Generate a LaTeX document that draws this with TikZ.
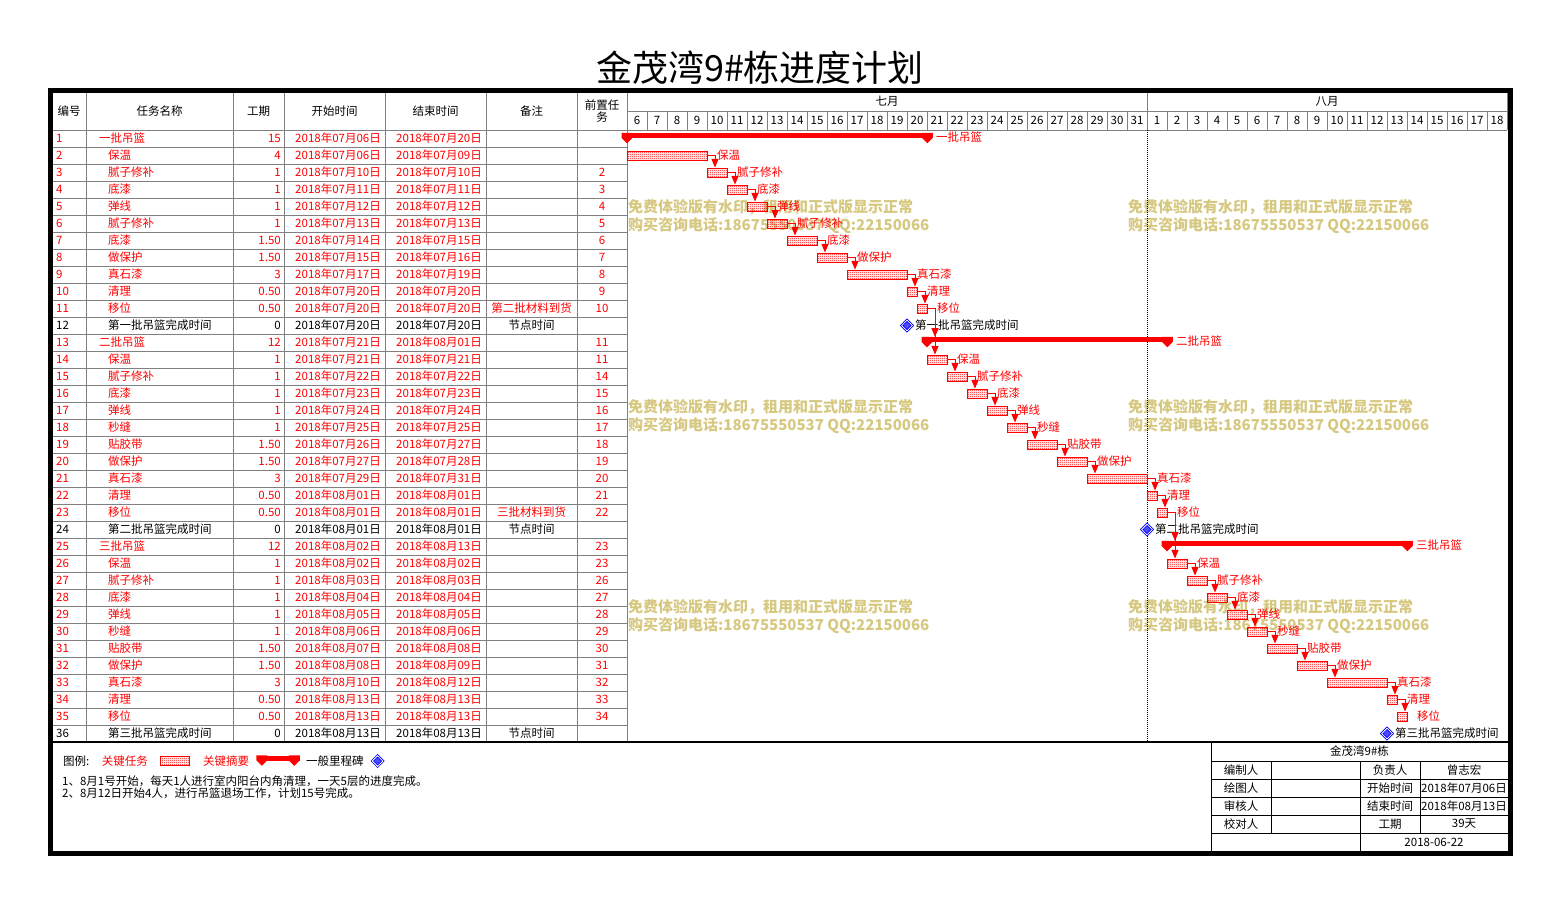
\documentclass[tikz,border=0pt]{standalone}
\usepackage{fontspec}
\setmainfont{Noto Sans CJK SC}
\usepackage{tikz}
\usetikzlibrary{arrows,positioning,calc,patterns,shapes.geometric}

\definecolor{wmark}{RGB}{214,200,128}
\definecolor{gridgray}{RGB}{128,128,128}
% fine checker fill of the task bars
\pgfdeclarepatternformonly{finecheck}{\pgfqpoint{0pt}{0pt}}{\pgfqpoint{2pt}{2pt}}{\pgfqpoint{2pt}{2pt}}{%
  \pgfpathrectangle{\pgfpointorigin}{\pgfqpoint{1pt}{1pt}}%
  \pgfpathrectangle{\pgfqpoint{1pt}{1pt}}{\pgfqpoint{1pt}{1pt}}%
  \pgfusepath{fill}}
% end caps of a summary bar
\newcommand{\sumcaps}[1]{%
  \fill[red] (#1.north west) -- ++(11,0) -- ++(0,5) -- ++(-5.5,5.5) -- ++(-5.5,-5.5) -- cycle;
  \fill[red] (#1.north east) -- ++(-11,0) -- ++(0,5) -- ++(5.5,5.5) -- ++(5.5,-5.5) -- cycle;}

\begin{document}
\begin{tikzpicture}[x=1pt,y=-1pt,>=triangle 45,inner sep=0pt,font=\fontsize{11.5}{12}\selectfont]
\tikzstyle{rule}=[draw=gridgray,line width=1pt]
  \tikzstyle{taskbar}=[draw=red,line width=1pt,pattern=finecheck,pattern color=red,minimum height=9pt,anchor=west]
  \tikzstyle{sumbar}=[fill=red,minimum height=5pt,anchor=west]
  \tikzstyle{milestone}=[diamond,aspect=1,draw=blue,double=white,double distance=0.8pt,line width=0.8pt,fill=blue!70,minimum size=11pt]
  \tikzstyle{barlab}=[text=red]
  \tikzstyle{link}=[->,draw=red,line width=1pt]
  \tikzstyle{wmtext}=[text=wmark,font=\fontsize{15}{18}\selectfont\bfseries,align=left,anchor=north west]
\useasboundingbox (0,0) rectangle (1559,903);
%
\node[font=\fontsize{36}{40}\selectfont] (title) at (760,68) {金茂湾9\#栋进度计划};
%
% watermark
\foreach \wx/\wy [count=\k] in {628/199,1128/199,628/399,1128/399,628/599,1128/599}
  \node[wmtext] (wm\k) at (\wx,\wy) {免费体验版有水印，租用和正式版显示正常\\购买咨询电话:18675550537 QQ:22150066};
%
% grid of the table and of the time scale
\foreach \cx in {52,86,233,284,385,486,577,627} \draw[rule] (\cx,92) -- (\cx,742);
\foreach \k in {0,...,36} \draw[rule] (52,{130+17*\k}) -- (627,{130+17*\k});
\draw[rule] (627,111) -- (1507,111);
\draw[rule] (627,130) -- (1507,130);
\foreach \k in {0,...,44} \draw[rule] ({627+20*\k},111) -- ++(0,19);
\draw[rule] (1147,92) -- (1147,111);
\draw[rule] (1507,92) -- (1507,130);
\draw[dash pattern=on 1pt off 1pt,line width=0.8pt] (1147,130) -- (1147,742);
%
% headers
\foreach \hx/\htext [count=\k] in {69/编号,159.5/任务名称,258.5/工期,334.5/开始时间,435.5/结束时间,531.5/备注}
  \node (head\k) at (\hx,111) {\htext};
\node[align=center] (head7) at (602,111) {前置任\\务};
\node (jul) at (887,101.5) {七月};
\node (aug) at (1327,101.5) {八月};
\foreach \d in {6,...,31} \node (jul\d) at ({637+20*(\d-6)},120.5) {\d};
\foreach \d in {1,...,18} \node (aug\d) at ({1157+20*(\d-1)},120.5) {\d};
%
% table rows
\foreach \i/\nx/\tname/\dur/\tbeg/\tend/\tnote/\pred/\col in {
1/99/一批吊篮/15/07月06日/07月20日///red,
2/108/保温/4/07月06日/07月09日///red,
3/108/腻子修补/1/07月10日/07月10日//2/red,
4/108/底漆/1/07月11日/07月11日//3/red,
5/108/弹线/1/07月12日/07月12日//4/red,
6/108/腻子修补/1/07月13日/07月13日//5/red,
7/108/底漆/1.50/07月14日/07月15日//6/red,
8/108/做保护/1.50/07月15日/07月16日//7/red,
9/108/真石漆/3/07月17日/07月19日//8/red,
10/108/清理/0.50/07月20日/07月20日//9/red,
11/108/移位/0.50/07月20日/07月20日/第二批材料到货/10/red,
12/108/第一批吊篮完成时间/0/07月20日/07月20日/节点时间//black,
13/99/二批吊篮/12/07月21日/08月01日//11/red,
14/108/保温/1/07月21日/07月21日//11/red,
15/108/腻子修补/1/07月22日/07月22日//14/red,
16/108/底漆/1/07月23日/07月23日//15/red,
17/108/弹线/1/07月24日/07月24日//16/red,
18/108/秒缝/1/07月25日/07月25日//17/red,
19/108/贴胶带/1.50/07月26日/07月27日//18/red,
20/108/做保护/1.50/07月27日/07月28日//19/red,
21/108/真石漆/3/07月29日/07月31日//20/red,
22/108/清理/0.50/08月01日/08月01日//21/red,
23/108/移位/0.50/08月01日/08月01日/三批材料到货/22/red,
24/108/第二批吊篮完成时间/0/08月01日/08月01日/节点时间//black,
25/99/三批吊篮/12/08月02日/08月13日//23/red,
26/108/保温/1/08月02日/08月02日//23/red,
27/108/腻子修补/1/08月03日/08月03日//26/red,
28/108/底漆/1/08月04日/08月04日//27/red,
29/108/弹线/1/08月05日/08月05日//28/red,
30/108/秒缝/1/08月06日/08月06日//29/red,
31/108/贴胶带/1.50/08月07日/08月08日//30/red,
32/108/做保护/1.50/08月08日/08月09日//31/red,
33/108/真石漆/3/08月10日/08月12日//32/red,
34/108/清理/0.50/08月13日/08月13日//33/red,
35/108/移位/0.50/08月13日/08月13日//34/red,
36/108/第三批吊篮完成时间/0/08月13日/08月13日/节点时间//black}
{
  \pgfmathsetmacro\ry{138.5+17*(\i-1)}
  \node[anchor=west,text=\col] (no\i) at (56,\ry) {\i};
  \node[anchor=west,text=\col] (task\i) at (\nx,\ry) {\tname};
  \node[anchor=east,text=\col] (dur\i) at (281,\ry) {\dur};
  \node[anchor=east,text=\col] (start\i) at (381,\ry) {2018年\tbeg};
  \node[anchor=east,text=\col] (end\i) at (482,\ry) {2018年\tend};
  \node[text=\col] (note\i) at (531.5,\ry) {\tnote};
  \node[text=\col] (pre\i) at (602,\ry) {\pred};
}
%
% summary bars
\foreach \i/\a/\w/\tname in {1/0/15/一批吊篮,13/15/12/二批吊篮,25/27/12/三批吊篮}
{
  \node[sumbar,minimum width={\w*20pt+11pt}] (bar\i) at ({627+20*\a-5.5},{135.5+17*(\i-1)}) {};
  \sumcaps{bar\i}
  \node[barlab,right=3pt of bar\i,yshift=-2pt] (lab\i) {\tname};
}
%
% task bars
\foreach \i/\a/\w/\tname in {2/0/4/保温,3/4/1/腻子修补,4/5/1/底漆,5/6/1/弹线,6/7/1/腻子修补,7/8/1.5/底漆,8/9.5/1.5/做保护,9/11/3/真石漆,10/14/0.5/清理,11/14.5/0.5/移位,
  14/15/1/保温,15/16/1/腻子修补,16/17/1/底漆,17/18/1/弹线,18/19/1/秒缝,19/20/1.5/贴胶带,20/21.5/1.5/做保护,21/23/3/真石漆,22/26/0.5/清理,23/26.5/0.5/移位,
  26/27/1/保温,27/28/1/腻子修补,28/29/1/底漆,29/30/1/弹线,30/31/1/秒缝,31/32/1.5/贴胶带,32/33.5/1.5/做保护,33/35/3/真石漆,34/38/0.5/清理,35/38.5/0.5/移位}
{
  \node[taskbar,minimum width=\w*20pt] (bar\i) at ({627+20*\a},{138.5+17*(\i-1)}) {};
  \coordinate (tail\i) at ([xshift=7pt]bar\i.east);
  \node[barlab,right=9pt of bar\i] (lab\i) {\tname};
}
%
% milestones
\foreach \i/\a/\tname in {12/14/第一批吊篮完成时间,24/26/第二批吊篮完成时间,36/38/第三批吊篮完成时间}
{
  \node[milestone] (ms\i) at ({627+20*\a},{138.5+17*(\i-1)}) {};
  \node[right=2pt of ms\i] (lab\i) {\tname};
}
%
% links between tasks
\foreach \i/\j in {2/3,3/4,4/5,5/6,6/7,7/8,8/9,9/10,10/11,11/13,11/14,14/15,15/16,16/17,17/18,18/19,19/20,20/21,21/22,22/23,23/25,23/26,26/27,27/28,28/29,29/30,30/31,31/32,32/33,33/34,34/35}
  \draw[link] (bar\i.east) -| (tail\i |- bar\j.north);
%
% legend and notes
\draw[line width=1.5pt] (52,742) -- (1508,742);
\node[anchor=west] (leg0) at (63,761) {图例:};
\node[barlab,right=12pt of leg0] (leg1) {关键任务};
\node[taskbar,minimum width=29pt,right=12pt of leg1] (leg2) {};
\node[barlab,right=13pt of leg2] (leg3) {关键摘要};
\node[sumbar,minimum width=43pt,right=7pt of leg3,yshift=3pt] (leg4) {};
\sumcaps{leg4}
\node[right=6pt of leg4,yshift=-3pt] (leg5) {一般里程碑};
\node[milestone,right=8pt of leg5] (leg6) {};
\node[anchor=north west,align=left] (notes) at (62,776) {1、8月1号开始，每天1人进行室内阳台内角清理，一天5层的进度完成。\\2、8月12日开始4人，进行吊篮退场工作，计划15号完成。};
%
% title block
\draw (1211,742) -- (1211,852);
\foreach \ly in {761,779,797,815,833} \draw (1211,\ly) -- (1508,\ly);
\draw (1271,761) -- (1271,833);
\draw (1360,761) -- (1360,852);
\draw (1420,761) -- (1420,833);
\node (tbhead) at (1359.5,751.5) {金茂湾9\#栋};
\foreach \who/\key/\val [count=\k] in {编制人/负责人/曾志宏,绘图人/开始时间/2018年07月06日,审核人/结束时间/2018年08月13日,校对人/工期/39天}
{
  \node (who\k) at (1241,{752+18*\k}) {\who};
  \node (key\k) at (1390,{752+18*\k}) {\key};
  \node (val\k) at (1464,{752+18*\k}) {\val};
}
\node (tbdate) at (1434,842) {2018-06-22};
%
\draw[line width=5pt] (50.5,90.5) rectangle (1510,853.5);
\end{tikzpicture}
\end{document}
